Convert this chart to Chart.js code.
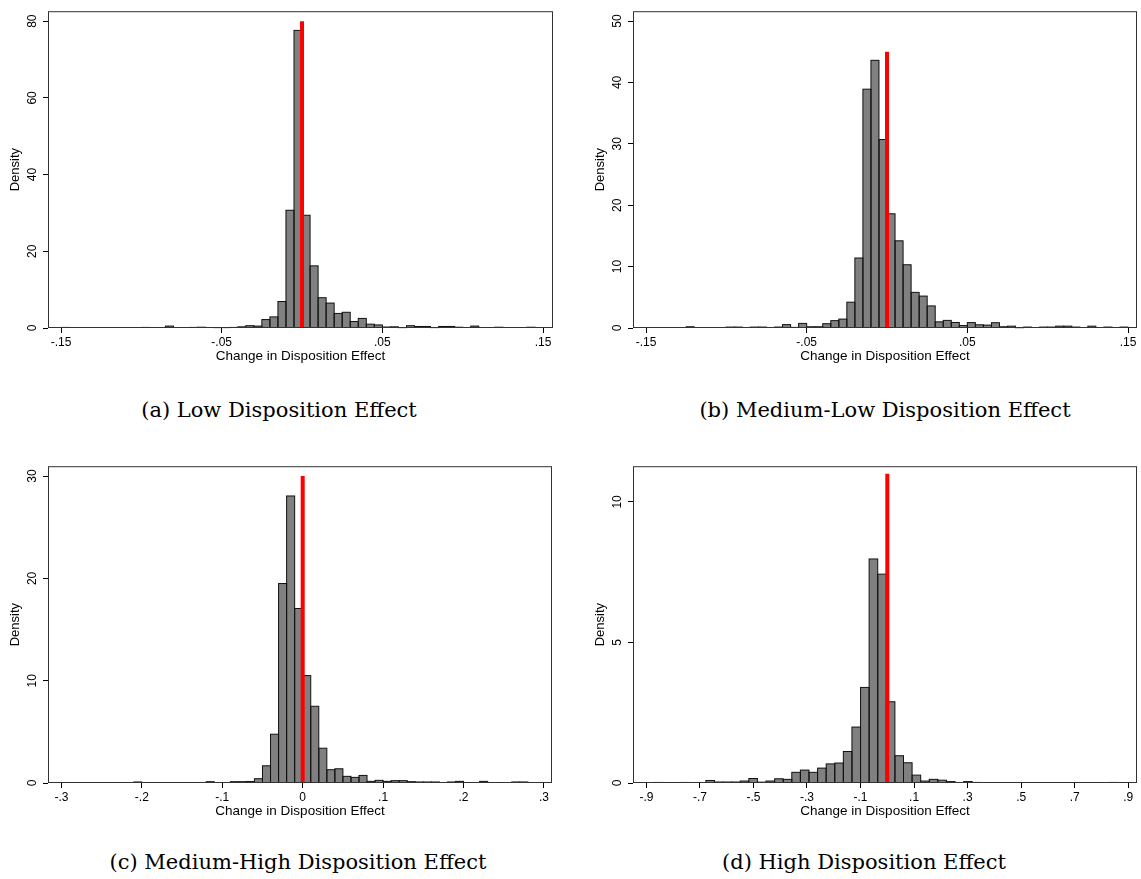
<!DOCTYPE html>
<html>
<head>
<meta charset="utf-8">
<script src="https://cdn.jsdelivr.net/npm/chart.js@4.4.0/dist/chart.umd.min.js"></script>
<style>
  body { margin: 0; background: #fff; width: 1141px; height: 879px; position: relative; overflow: hidden; }
  canvas { position: absolute; }
  .cap { position: absolute; transform: translateX(-50%); font-family: "DejaVu Serif", serif; font-size: 21px; line-height: 24px; white-space: nowrap; color: #000; }
</style>
</head>
<body>
<canvas id="a" width="570" height="364" style="left:0;top:0"></canvas>
<canvas id="b" width="556" height="364" style="left:585px;top:0"></canvas>
<canvas id="c" width="570" height="364" style="left:0;top:455px"></canvas>
<canvas id="d" width="556" height="364" style="left:585px;top:455px"></canvas>
<div class="cap" style="left:279px;top:398px">(a) Low Disposition Effect</div>
<div class="cap" style="left:885px;top:398px">(b) Medium-Low Disposition Effect</div>
<div class="cap" style="left:298px;top:850px">(c) Medium-High Disposition Effect</div>
<div class="cap" style="left:864px;top:850px">(d) High Disposition Effect</div>
<script>
// (a) low disposition effect, bins of .005
const aBinStart = -0.155, aBinWidth = 0.005
const aDensity = [
  0, 0.15, 0, 0, 0, 0, 0, 0, 0, 0,
  0, 0.15, 0, 0, 0.5, 0, 0, 0.15, 0.2, 0,
  0.1, 0.1, 0.15, 0.3, 0.6, 0.5, 2.2, 2.9, 6.9, 30.7,
  77.6, 29.4, 16.2, 7.9, 6.5, 3.8, 4.1, 1.7, 2.5, 1.0,
  0.8, 0.25, 0.3, 0.1, 0.6, 0.4, 0.4, 0.1, 0.4, 0.4,
  0.2, 0, 0.5, 0, 0, 0.2, 0, 0, 0, 0.2,
  0, 0
]
const aRedTop = 80
const aXTicks = [-0.15, -0.05, 0.05, 0.15]
const aYTicks = [0, 20, 40, 60, 80]

// (b) medium-low
const bBinStart = -0.16, bBinWidth = 0.005
const bDensity = [
  0, 0, 0, 0, 0, 0, 0, 0.2, 0, 0,
  0, 0, 0.15, 0.15, 0, 0.15, 0.15, 0, 0.15, 0.55,
  0.1, 0.75, 0.2, 0.2, 0.7, 1.2, 1.45, 4.2, 11.4, 38.9,
  43.6, 30.7, 18.6, 14.2, 10.3, 5.8, 5.2, 3.6, 1.0, 1.24,
  0.9, 0.4, 0.88, 0.52, 0.47, 0.86, 0.2, 0.3, 0.05, 0.15,
  0, 0.15, 0.15, 0.3, 0.3, 0.15, 0, 0.3, 0, 0.15,
  0, 0.15, 0
]
const bRedTop = 45
const bXTicks = [-0.15, -0.05, 0.05, 0.15]
const bYTicks = [0, 10, 20, 30, 40, 50]

// (c) medium-high, bins of .01
const cBinStart = -0.32, cBinWidth = 0.01
const cDensity = [
  0, 0, 0, 0, 0, 0, 0, 0, 0, 0,
  0, 0.1, 0, 0, 0, 0, 0, 0, 0, 0,
  0.13, 0, 0, 0.13, 0.13, 0.15, 0.42, 1.68, 4.77, 19.5,
  28.06, 17.06, 10.5, 7.5, 3.4, 1.3, 1.39, 0.65, 0.55, 0.74,
  0.16, 0.26, 0.16, 0.23, 0.23, 0.13, 0.1, 0.1, 0.1, 0,
  0.1, 0.16, 0, 0, 0.16, 0, 0, 0, 0.1, 0.1,
  0, 0, 0
]
const cRedTop = 30
const cXTicks = [-0.3, -0.2, -0.1, 0, 0.1, 0.2, 0.3]
const cYTicks = [0, 10, 20, 30]

// (d) high
const dBinStart = -0.9346, dBinWidth = 0.0321
const dDensity = [
  0, 0, 0.02, 0, 0, 0.02, 0, 0, 0.09, 0.035,
  0.035, 0.035, 0.07, 0.16, 0.03, 0.07, 0.15, 0.13, 0.38, 0.46,
  0.38, 0.53, 0.68, 0.71, 1.12, 1.99, 3.4, 7.97, 7.43, 2.89,
  0.97, 0.72, 0.28, 0.07, 0.13, 0.1, 0.05, 0, 0.05, 0.02,
  0, 0, 0, 0, 0, 0, 0, 0, 0, 0,
  0, 0, 0, 0, 0, 0.02, 0, 0
]
const dRedTop = 11
const dXTicks = [-0.9, -0.7, -0.5, -0.3, -0.1, 0.1, 0.3, 0.5, 0.7, 0.9]
const dYTicks = [0, 5, 10]

Chart.defaults.font.family = '"Liberation Sans", Arial, sans-serif'
Chart.defaults.color = '#000'

// stata style labels: -.05, .1, 0
function fmt(v){
  if (Math.abs(v) < 1e-9) return '0'
  return String(+v.toFixed(3)).replace('0.', '.')
}

const frame = {
  id: 'frame',
  afterDatasetsDraw(chart){
    const {ctx, chartArea: a} = chart
    ctx.save()
    ctx.strokeStyle = '#333'
    ctx.lineWidth = 1
    ctx.strokeRect(a.left + 0.5, a.top + 0.5, a.right - a.left - 1, a.bottom - a.top - 1)
    ctx.restore()
  }
}

// outline each bar with a centred stroke, like stata does (shared edges, visible on tiny bins)
const outline = {
  id: 'outline',
  afterDatasetDraw(chart, args){
    if (args.meta.type !== 'bar') return
    const ctx = chart.ctx
    ctx.save()
    ctx.strokeStyle = '#111'
    ctx.lineWidth = 1
    args.meta.data.forEach((bar, i) => {
      if (!args.meta._parsed[i].y) return
      const {x, y, base, width} = bar.getProps(['x', 'y', 'base', 'width'], true)
      ctx.strokeRect(x - width / 2, y, width, base - y)
    })
    ctx.restore()
  }
}

function histogram(id, binStart, binWidth, density, redTop, xMin, xMax, yMax, xTicks, yTicks, padRight){
  const bars = density.map((d, i) => ({x: binStart + (i + 0.5) * binWidth, y: d}))
  const grid = {display: true, drawOnChartArea: false, drawTicks: true, tickLength: 5, color: '#000', tickColor: '#000', offset: false}
  return new Chart(document.getElementById(id), {
    type: 'bar',
    data: {
      datasets: [
        {type: 'line', data: [{x: 0, y: 0}, {x: 0, y: redTop}], borderColor: '#ff0000', borderWidth: 4, pointRadius: 0, order: 0},
        {data: bars, backgroundColor: '#808080', borderWidth: 0,
         barPercentage: 1, categoryPercentage: 1, inflateAmount: 0, order: 1}
      ]
    },
    options: {
      responsive: false,
      animation: false,
      layout: {padding: {top: 9, right: padRight, left: 0, bottom: 0}},
      plugins: {legend: {display: false}, tooltip: {enabled: false}},
      scales: {
        x: {
          type: 'linear', min: xMin, max: xMax, offset: false,
          grid: grid,
          border: {display: false},
          afterBuildTicks: s => { s.ticks = xTicks.map(v => ({value: v})) },
          afterFit: s => { s.height = 36 },
          ticks: {callback: v => fmt(v), font: {size: 12}, padding: 2, maxRotation: 0, autoSkip: false},
          title: {display: true, text: 'Change in Disposition Effect', font: {size: 13.5}, padding: {top: 0, bottom: 0}}
        },
        y: {
          min: 0, max: yMax,
          grid: grid,
          border: {display: false},
          afterBuildTicks: s => { s.ticks = yTicks.map(v => ({value: v})) },
          afterFit: s => { s.width = 48 },
          ticks: {font: {size: 12}, padding: 4, minRotation: 90, maxRotation: 90, crossAlign: 'center', autoSkip: false},
          title: {display: true, text: 'Density', font: {size: 13}, padding: {top: 8, bottom: 0}}
        }
      }
    },
    plugins: [outline, frame]
  })
}

histogram('a', aBinStart, aBinWidth, aDensity, aRedTop, -0.1581, 0.1562, 82.6, aXTicks, aYTicks, 17)
histogram('b', bBinStart, bBinWidth, bDensity, bRedTop, -0.1581, 0.1556, 51.6, bXTicks, bYTicks, 4)
histogram('c', cBinStart, cBinWidth, cDensity, cRedTop, -0.3167, 0.31, 30.97, cXTicks, cYTicks, 18)
histogram('d', dBinStart, dBinWidth, dDensity, dRedTop, -0.95, 0.9328, 11.27, dXTicks, dYTicks, 4)
</script>
</body>
</html>
